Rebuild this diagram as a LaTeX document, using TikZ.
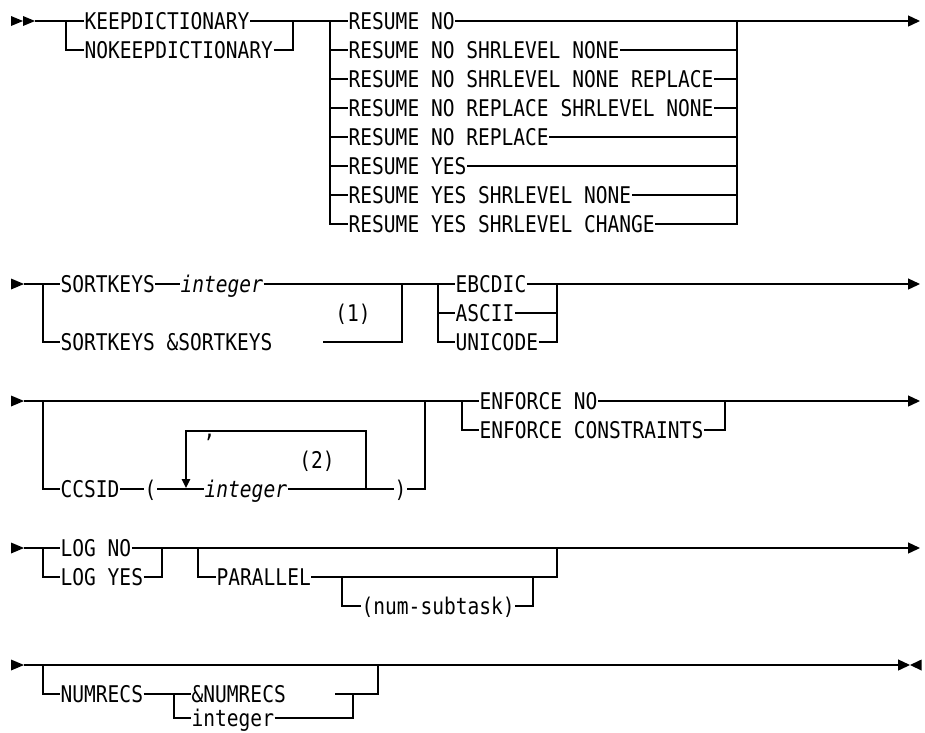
\documentclass[tikz,border=0pt]{standalone}
\usepackage{fontspec}
\newfontfamily\rrfam[FakeStretch=0.85]{DejaVu Sans Mono}
\newcommand\rrfont{\rrfam\fontsize{23pt}{25pt}\selectfont}
\usetikzlibrary{arrows.meta}
\begin{document}
\begin{tikzpicture}[x=1pt,y=-1pt,line width=1.3pt,
    kw/.style={font=\rrfont, inner sep=0pt, text height=16.8pt, text depth=0pt, anchor=west},
    var/.style={kw, font=\rrfont\itshape},
    endarrow/.style={-{Triangle[length=12pt,width=11pt]}}]
  \useasboundingbox (0,0) rectangle (925,732);

  % row 1
  \fill (11,16) -- (23,21) -- (11,26) -- cycle;
  \fill (23,16) -- (35,21) -- (23,26) -- cycle;
  \coordinate (s1) at (35,21);
  \coordinate (b1) at (66,21);
  \coordinate (e1) at (293,21);
  \coordinate (b2) at (330,21);
  \coordinate (e2) at (737,21);
  \coordinate (t1) at (920,21);
  \node[kw] (kd) at (84,21) {KEEPDICTIONARY};
  \node[kw] (nkd) at (84,50) {NOKEEPDICTIONARY};
  \foreach \t [count=\i] in {RESUME NO,RESUME NO SHRLEVEL NONE,RESUME NO SHRLEVEL NONE REPLACE,
      RESUME NO REPLACE SHRLEVEL NONE,RESUME NO REPLACE,RESUME YES,
      RESUME YES SHRLEVEL NONE,RESUME YES SHRLEVEL CHANGE}
    \node[kw] (r\i) at (348,{21+29*(\i-1)}) {\t};
  \draw (s1) -- (kd.west) (kd.east) -- (r1.west) (r1.east) -- (e2);
  \draw[endarrow] (e2) -- (t1);
  \draw (b1) |- (nkd.west) (nkd.east) -| (e1);
  \foreach \i in {2,...,8}
    \draw (b2) |- (r\i.west) (r\i.east) -| (e2);

  % row 2
  \fill (11,278.5) -- (24,284) -- (11,289.5) -- cycle;
  \coordinate (s2) at (24,284);
  \coordinate (b3) at (43,284);
  \coordinate (e3) at (402,284);
  \coordinate (b4) at (438,284);
  \coordinate (e4) at (557,284);
  \coordinate (t2) at (920,284);
  \coordinate (n1) at (323,342);
  \node[kw] (sk) at (60,284) {SORTKEYS};
  \node[var] (ski) at (180,284) {integer};
  \node[kw] (skv) at (60,342) {SORTKEYS \&SORTKEYS};
  \node[kw, anchor=center] (note1) at (353,313) {(1)};
  \node[kw] (eb) at (455,284) {EBCDIC};
  \node[kw] (as) at (455,313) {ASCII};
  \node[kw] (un) at (455,342) {UNICODE};
  \draw (s2) -- (sk.west) (sk.east) -- (ski.west) (ski.east) -- (eb.west) (eb.east) -- (e4);
  \draw[endarrow] (e4) -- (t2);
  \draw (b3) |- (skv.west) (n1) -| (e3);
  \draw (b4) |- (as.west) (as.east) -| (e4);
  \draw (b4) |- (un.west) (un.east) -| (e4);

  % row 3
  \fill (11,395.5) -- (24,401) -- (11,406.5) -- cycle;
  \coordinate (s3) at (24,401);
  \coordinate (b5) at (43,401);
  \coordinate (e5) at (425,401);
  \coordinate (b6) at (462,401);
  \coordinate (e6) at (725,401);
  \coordinate (t3) at (920,401);
  \coordinate (lb) at (186,431);
  \coordinate (lt) at (366,431);
  \node[kw] (cc) at (60,489) {CCSID};
  \node[kw] (lp) at (144,489) {(};
  \node[var] (ci) at (204,489) {integer};
  \node[kw] (rp) at (394,489) {)};
  \node[kw] (cm) at (203,429) {,};
  \node[kw, anchor=center] (note2) at (317,460) {(2)};
  \node[kw] (en1) at (479,401) {ENFORCE NO};
  \node[kw] (en2) at (479,430) {ENFORCE CONSTRAINTS};
  \draw (s3) -- (en1.west) (en1.east) -- (e6);
  \draw[endarrow] (e6) -- (t3);
  \draw (b5) |- (cc.west) (cc.east) -- (lp.west) (lp.east) -- (ci.west) (ci.east) -- (rp.west) (rp.east) -| (e5);
  \draw[-{Triangle[length=9pt,width=8.5pt]}] (lt |- ci.east) -- (lt) -- (lb) -- ([yshift=1pt]lb |- ci.west);
  \draw (b6) |- (en2.west) (en2.east) -| (e6);

  % row 4
  \fill (11,542.5) -- (24,548) -- (11,553.5) -- cycle;
  \coordinate (s4) at (24,548);
  \coordinate (b7) at (43,548);
  \coordinate (e7) at (162,548);
  \coordinate (b8) at (198,548);
  \coordinate (e8) at (557,548);
  \coordinate (b9) at (342,577);
  \coordinate (e9) at (533,577);
  \coordinate (t4) at (920,548);
  \node[kw] (lg1) at (60,548) {LOG NO};
  \node[kw] (lg2) at (60,577) {LOG YES};
  \node[kw] (par) at (216,577) {PARALLEL};
  \node[kw] (ns) at (361,606) {(num-subtask)};
  \draw (s4) -- (lg1.west) (lg1.east) -- (e8);
  \draw[endarrow] (e8) -- (t4);
  \draw (b7) |- (lg2.west) (lg2.east) -| (e7);
  \draw (b8) |- (par.west) (par.east) -| (e8);
  \draw (b9) |- (ns.west) (ns.east) -| (e9);

  % row 5
  \fill (11,659.5) -- (24,665) -- (11,670.5) -- cycle;
  \coordinate (s5) at (24,665);
  \coordinate (b10) at (43,665);
  \coordinate (e10) at (378,665);
  \coordinate (b11) at (174,694);
  \coordinate (e11) at (353,694);
  \coordinate (n2) at (335,694);
  \coordinate (t5) at (910,665);
  \node[kw] (nr) at (60,694) {NUMRECS};
  \node[kw] (anr) at (191,694) {\&NUMRECS};
  \node[kw] (ni) at (191,718) {integer};
  \draw[endarrow] (s5) -- (t5);
  \fill (921.5,659.5) -- (910,665) -- (921.5,670.5) -- cycle;
  \draw[line width=2.2pt] (383,665) -- (407,665);
  \draw (b10) |- (nr.west) (nr.east) -- (anr.west);
  \draw (n2) -| (e10);
  \draw (b11) |- (ni.west) (ni.east) -| (e11);
\end{tikzpicture}
\end{document}
